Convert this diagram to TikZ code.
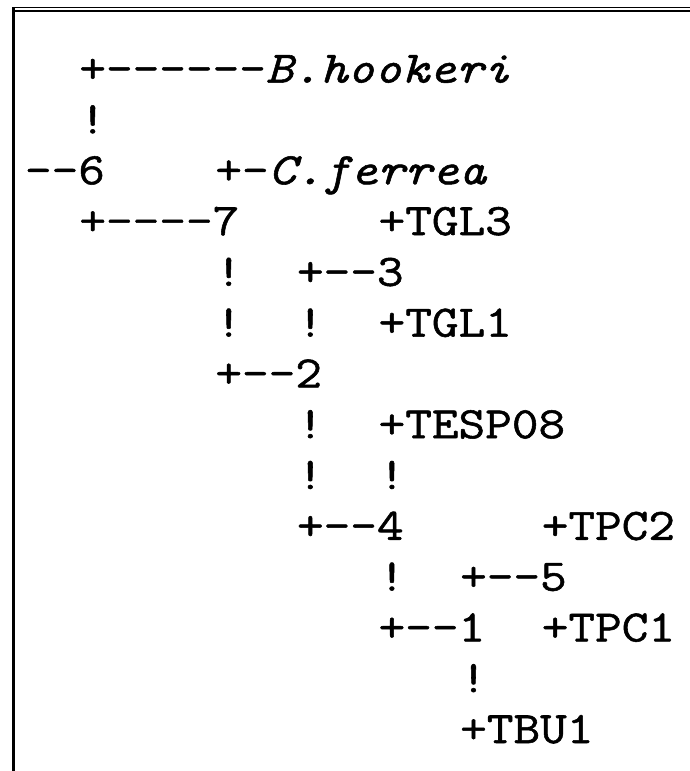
\documentclass[tikz,border=0pt]{standalone}
\usepackage{fontspec}
\setmonofont{Latin Modern Mono}[FakeStretch=1.15, FakeBold=1.2]
\tikzset{
  rowtext/.style={anchor=base west, inner sep=0pt, outer sep=0pt,
    font=\ttfamily\fontsize{45}{45}\selectfont, text=black},
  rule/.style={fill=black}
}
\newcommand\treetxt[4]{\node[rowtext] (#1) at ({25+27.2*#2},{82.6+50.8*#3}) {#4};}
\begin{document}
\begin{tikzpicture}[x=1pt,y=-1pt]
\useasboundingbox (0,0) rectangle (690,771);
% frame
\fill[rule] (11.7,6.7) rectangle (690,8.3);
\fill[rule] (15,9.7) rectangle (690,11.7);
\fill[rule] (11.7,6.7) rectangle (15.3,771);
% rows
\treetxt{r0a}{2}{0}{+------\textit{B.hookeri}}
\treetxt{r1a}{2}{1}{!}
\treetxt{r2a}{0}{2}{--6}
\treetxt{r2b}{7}{2}{+-\textit{C.ferrea}}
\treetxt{r3a}{2}{3}{+----7}
\treetxt{r3b}{13}{3}{+TGL3}
\treetxt{r4a}{7}{4}{!}
\treetxt{r4b}{10}{4}{+--3}
\treetxt{r5a}{7}{5}{!}
\treetxt{r5b}{10}{5}{!}
\treetxt{r5c}{13}{5}{+TGL1}
\treetxt{r6a}{7}{6}{+--2}
\treetxt{r7a}{10}{7}{!}
\treetxt{r7b}{13}{7}{+TESP08}
\treetxt{r8a}{10}{8}{!}
\treetxt{r8b}{13}{8}{!}
\treetxt{r9a}{10}{9}{+--4}
\treetxt{r9b}{19}{9}{+TPC2}
\treetxt{r10a}{13}{10}{!}
\treetxt{r10b}{16}{10}{+--5}
\treetxt{r11a}{13}{11}{+--1}
\treetxt{r11b}{19}{11}{+TPC1}
\treetxt{r12a}{16}{12}{!}
\treetxt{r13a}{16}{13}{+TBU1}
\end{tikzpicture}
\end{document}
